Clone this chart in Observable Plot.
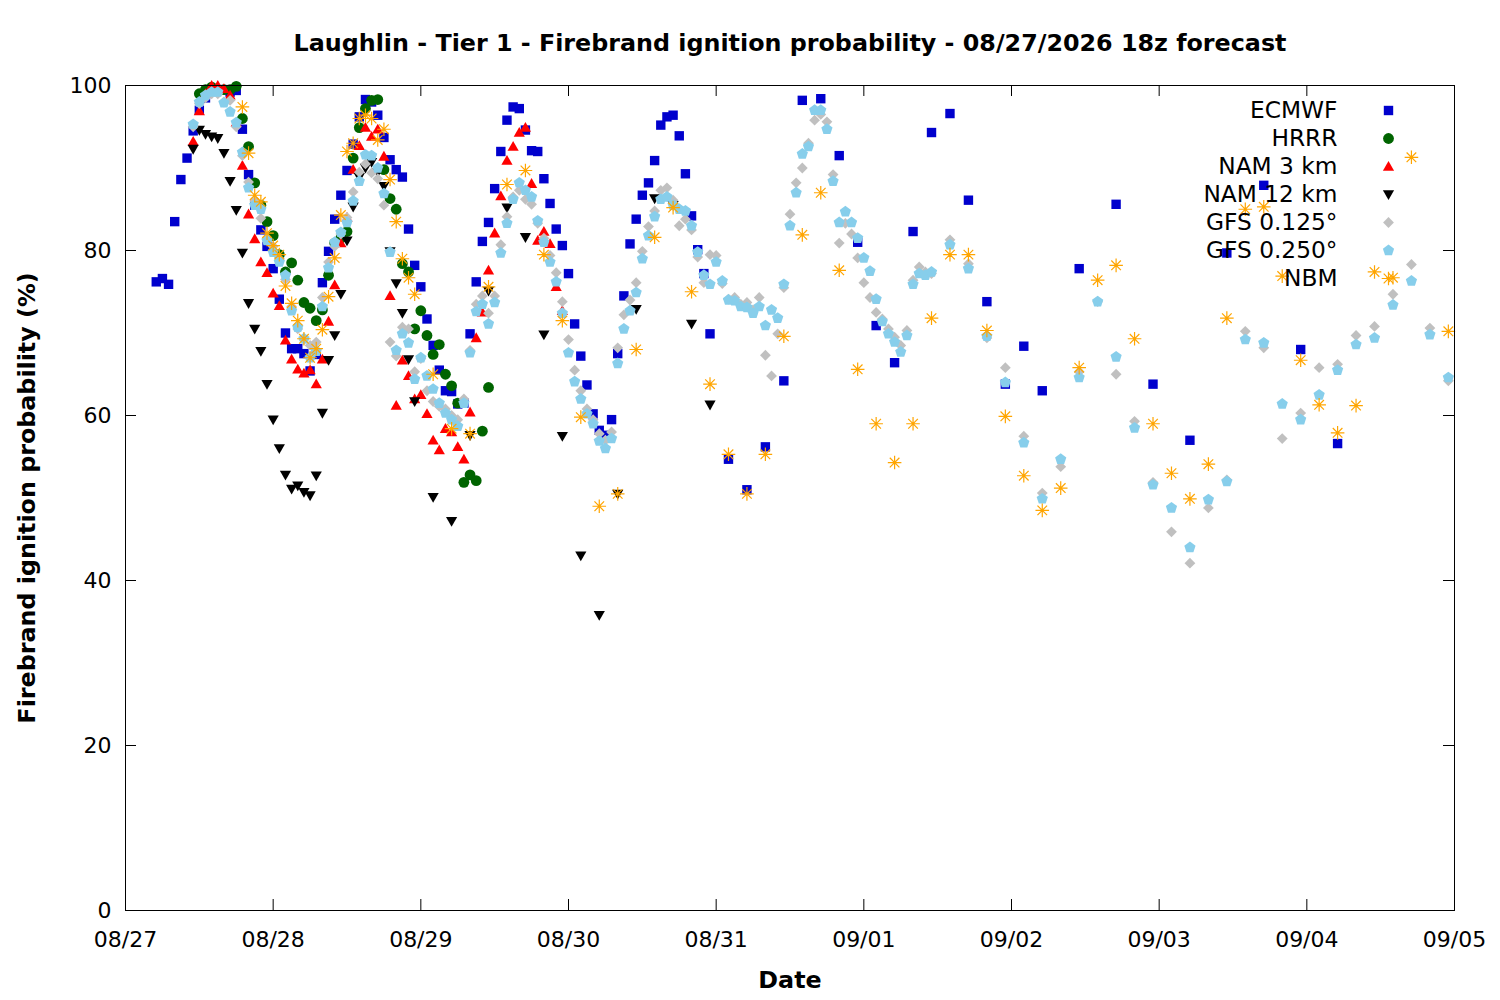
<!DOCTYPE html>
<html><head><meta charset="utf-8">
<script src="https://cdn.jsdelivr.net/npm/d3@7"></script>
<script src="https://cdn.jsdelivr.net/npm/@observablehq/plot@0.6"></script>
<style>body{margin:0;background:#fff}</style>
</head><body><div id="chart"></div>
<script>
// ---------------- text ----------------
const titleText = "Laughlin - Tier 1 - Firebrand ignition probability - 08/27/2026 18z forecast";
const xLabelText = "Date";
const yLabelText = "Firebrand ignition probability (%)";
const dayTicks = ["2026-08-27","2026-08-28","2026-08-29","2026-08-30","2026-08-31","2026-09-01","2026-09-02","2026-09-03","2026-09-04","2026-09-05"];
const yTicks = [0, 20, 40, 60, 80, 100];
const models = ["ECMWF", "HRRR", "NAM 3 km", "NAM 12 km", "GFS 0.125°", "GFS 0.250°", "NBM"];
const modelColors = ["#0000cd", "#006400", "#ff0000", "#000000", "#c0c0c0", "#87ceeb", "#ffa500"];
const startTime = "2026-08-27T00:00Z"; // hour offsets below count from here

// ---------------- data (hour offset of first value, step in hours, values) ----------------
const ecmwfHourly = [76.2,76.6,75.9,83.5,88.6,91.2,94.5,97,98.5,99.3,
  99.5,99.5,99.2,99.4,94.7,89.2,85.5,82.5,80.5,77.8,
  74.1,70,68.1,68.1,67.5,65.4,67.4,76.1,79.9,83.8,
  86.7,89.7,92.9,96.2,98.3,98,96.4,93.7,91,89.8,
  88.9,82.6,78.2,75.6,71.7,68.5,65.5,63,62.9,61.4,
  61.5,69.9,76.2,81.1,83.4,87.5,92,95.8,97.4,97.2,
  94.6,92.1,92,88.7,85.7,82.6,80.6,77.2,71.1,67.2,
  63.7,60.2,58.2,57.6,59.5,67.5,74.5,80.8,83.8,86.7,
  88.2,90.9,95.2,96.2,96.4,93.9,89.3,84.2,80.1,77.2,
  69.9]; // h5..h95
const ecmwf3h = [54.7,51,56.2,64.2,98.2,98.4,91.5,81,70.9,66.4,82.3,94.3,96.6,86.1,73.8,63.8,68.4,63]; // h98..h149
const ecmwf6h = [77.8,85.6,63.8,57,79.7,87.9,68,56.6]; // h155..h197

const hrrrHourly = [99,99.5,99.8,99.5,99.5,99.5,99.9,96,92.6,88.2,
  85.5,83.5,81.8,79.5,77.4,78.5,76.4,73.7,73,71.5,
  72.8,77,80.9,81.5,82.3,91.2,94.9,97.2,98.2,98.3,
  89.8,86.3,85,78.4,77.4,70.5,72.7,69.7,67.4,68.6,
  65,63.6,61.5,51.9,52.8,52.1,58.1,63.4]; // h12..h59

const nam3Hourly = [93.2,96.9,99,100,100,99.6,98.8,95.5,90.3,84.4,
  81.4,78.6,77.3,74.8,73.3,69.1,66.8,65.6,65.1,65.5,
  63.8,66.8,71.4,75.8,80.9,84,89.8,92.7,94.9,93.8,
  94.7,91.4,74.5,61.2,66.7,64.8,62,62.5,60.2,57,
  55.8,58.4,58,56.2,54.7,60.4,69.4,72.5,77.6,82.1,
  86.6,90.9,92.6,94.3,94.9,88.1,81.2,82.3,80.8,75.6,72.7]; // h11..h71

const nam12Hourly = [92.3,94.6,94.1,93.8,93.6,91.8,88.4,84.9,79.7,73.6,
  70.5,67.8,63.8,59.5,56,52.8,51.1,51.5,50.7,50.3,
  52.7,60.3,66.7,69.7,74.7,81.2,85.3,88.9,90,90.7,
  89.5,87.8,79.9,76,72.4,66.8,61.7]; // h11..h47
const nam12ThreeHourly = [50.1,47.2,57.6,75.1,85.2,81.6,69.8,57.5,43,35.8,50.5,72.9,86.3,85.5,71.1,61.3]; // h50..h95

const gfs125Hourly = [95,97.8,98.5,99,99,98,98.2,95,91.5,88.3,
  86,83.9,81.5,80.5,79,76.5,73.2,70.5,69.2,68.5,
  68.9,74.3,78.6,80.5,82,84,87.1,89.5,90.5,89.4,
  88.7,85.5,68.9,67.2,70.7,70.5,65.3,66.9,63,61.7,
  61.1,60.8,60,59.5,62,67.9,73.5,74.5,72.4,74.5,
  80.7,84.1,86.5,87.3,86.2,85.6,83.3,81.5,79.4,77.3,
  73.8,69.2,65.5,63,60.8,59.5,57.8,57,58,68.2,
  72.2,74,76.1,79.9,82.9,84.8,87.3,87.6,86.1,83,
  83.8,82.5,79.2,76.1,79.5,79.4,76,74.1,74.3,73.5,
  73.7,72.8,74.3,67.3,64.8,69.9,75.5,84.4,88.2,90,
  93,95.8,96.5,95.6,89.2,80.9,83.3,82,79.1,76.1,
  74.3,72.5,71.7,70.5,69.5,68.5,70.3,76.4,78,77.4,77.2]; // h11..h131
const gfs125ThreeHourly = [81.3,78.4,69.4,65.8,57.5,50.6,53.8,65.3,73.8,65,59.3,51.9,45.9,42.1,
  48.8,52.2,70.2,68.2,57.2,60.3,65.8,66.2,69.7,70.8,74.7,78.3,70.6,64.2]; // h134..h215

const gfs250Hourly = [95.3,98,98.8,99.2,99.2,97.9,96.8,95.5,91.9,87.6,
  85.5,85,81.2,79.8,78.6,77,72.7,70.7,69.3,67,
  67.8,73.2,77.9,81,82.2,83.4,86,88.4,91.6,91.5,
  90,86.9,79.8,67.9,69.9,68.8,64.4,67,64.8,63.2,
  61.5,60.3,59.5,58.7,61.5,67.6,72.6,73.5,71.1,73.7,
  79.7,83.3,86.2,88.2,87.3,86.5,83.6,81,78.6,76.2,
  72.4,67.6,64.1,62,60.2,59,56.9,56,57.2,66.3,
  70.5,72.7,74.9,79,81.8,84.1,86.2,86.5,85.5,85,
  84.8,83,79.8,77,75.9,78.6,76.3,74,73.9,73.2,
  73.1,72.4,73.2,70.9,72.8,71.8,75.9,83,87,91.7,
  92.6,97,97,94.7,88.4,83.4,84.7,83.4,81.5,79.1,
  77.5,74.1,71.4,69.9,68.9,67.7,69.7,75.9,77.2,77,77.4]; // h11..h131
const gfs250ThreeHourly = [80.7,77.8,69.6,64,56.7,49.9,54.7,64.6,73.8,67.1,58.5,51.6,48.8,44,
  49.8,52,69.2,68.8,61.4,59.5,62.5,65.5,68.6,69.4,73.4,76.3,69.8,64.6]; // h134..h215

const nbmHourly = [97.4,91.8,86.7,85.9,82.1,80.6,79.5,75.7,73.6,71.5,
  69.3,67,68.1,70.4,74.4,79.1,84.3,92,93,96,
  96.4,96,93.4,94.7,88.6,83.5,79,76.7,74.7]; // h19..h47
const nbmThreeHourly = [65,58.4,57.8,75.6,88,89.7,79.5,71.5,59.8,49,
  50.5,68,81.6,85.2,75,63.8,55.3,50.5,55.3,69.6,
  81.9,87,77.6,65.6,59,54.3,59,71.8,79.5,79.5,
  70.3,59.9,52.7,48.5,51.2,65.8,76.4,78.2,69.3,59,
  53,49.9,54.1,71.8,85,85.3,76.9,66.7,61.3,57.9,
  61.2,77.4,76.7,91.3,null,70.2]; // h50..h215

const segments = [
  {model: "ECMWF", start: 5, step: 1, values: ecmwfHourly},
  {model: "ECMWF", start: 98, step: 3, values: ecmwf3h},
  {model: "ECMWF", start: 155, step: 6, values: ecmwf6h},
  {model: "HRRR", start: 12, step: 1, values: hrrrHourly},
  {model: "NAM 3 km", start: 11, step: 1, values: nam3Hourly},
  {model: "NAM 12 km", start: 11, step: 1, values: nam12Hourly},
  {model: "NAM 12 km", start: 50, step: 3, values: nam12ThreeHourly},
  {model: "GFS 0.125°", start: 11, step: 1, values: gfs125Hourly},
  {model: "GFS 0.125°", start: 134, step: 3, values: gfs125ThreeHourly},
  {model: "GFS 0.250°", start: 11, step: 1, values: gfs250Hourly},
  {model: "GFS 0.250°", start: 134, step: 3, values: gfs250ThreeHourly},
  {model: "NBM", start: 19, step: 1, values: nbmHourly},
  {model: "NBM", start: 50, step: 3, values: nbmThreeHourly}
];

// ---------------- build ----------------
const t0 = new Date(startTime).getTime();
const rows = [];
for (const s of segments) {
  s.values.forEach((v, i) => {
    if (v != null) rows.push({model: s.model, time: new Date(t0 + (s.start + i * s.step) * 3600e3), value: v});
  });
}

const mk = f => ({draw(ctx, size) { const r = Math.sqrt(size / Math.PI); f(ctx, r); }});
const symSquare = mk((c, r) => { c.moveTo(-r, -r); c.lineTo(r, -r); c.lineTo(r, r); c.lineTo(-r, r); c.closePath(); });
const symCircle = mk((c, r) => { c.moveTo(r, 0); c.arc(0, 0, r, 0, 2 * Math.PI); c.closePath(); });
const symTriUp = mk((c, r) => { c.moveTo(0, -r); c.lineTo(r, r * 0.75); c.lineTo(-r, r * 0.75); c.closePath(); });
const symTriDown = mk((c, r) => { c.moveTo(0, r); c.lineTo(r, -r * 0.75); c.lineTo(-r, -r * 0.75); c.closePath(); });
const symDiamond = mk((c, r) => { c.moveTo(0, -r); c.lineTo(r, 0); c.lineTo(0, r); c.lineTo(-r, 0); c.closePath(); });
const symPentagon = mk((c, r) => {
  for (let k = 0; k < 5; k++) {
    const a = -Math.PI / 2 + k * 2 * Math.PI / 5;
    const x = r * Math.cos(a), y = r * Math.sin(a);
    if (k) c.lineTo(x, y); else c.moveTo(x, y);
  }
  c.closePath();
});
const symStar = mk((c, r) => {
  for (let k = 0; k < 4; k++) {
    const a = k * Math.PI / 4;
    c.moveTo(r * Math.cos(a), r * Math.sin(a));
    c.lineTo(-r * Math.cos(a), -r * Math.sin(a));
  }
});

const styles = {
  "ECMWF": {symbol: symSquare, r: 4.7, filled: true},
  "HRRR": {symbol: symCircle, r: 5.4, filled: true},
  "NAM 3 km": {symbol: symTriUp, r: 5.6, filled: true},
  "NAM 12 km": {symbol: symTriDown, r: 5.6, filled: true},
  "GFS 0.125°": {symbol: symDiamond, r: 5.4, filled: true},
  "GFS 0.250°": {symbol: symPentagon, r: 5.9, filled: true},
  "NBM": {symbol: symStar, r: 6.8, filled: false}
};

function styleOpts(name, i) {
  const st = styles[name];
  return st.filled
    ? {symbol: st.symbol, r: st.r, fill: modelColors[i], stroke: "none"}
    : {symbol: st.symbol, r: st.r, fill: "none", stroke: modelColors[i], strokeWidth: 1.2};
}

const W = 1500, H = 1000, mL = 125, mR = 46, mT = 85, mB = 90;
const frameW = W - mL - mR, frameH = H - mT - mB;
const tickLen = 11;
const fontFamily = "DejaVu Sans";

const marks = [];
// inward ticks (bottom/top, left/right)
const dayDates = dayTicks.map(d => new Date(d + "T00:00Z"));
marks.push(Plot.ruleX(dayDates, {x: d => d, insetTop: frameH - tickLen, stroke: "black"}));
marks.push(Plot.ruleX(dayDates, {x: d => d, insetBottom: frameH - tickLen, stroke: "black"}));
marks.push(Plot.ruleY(yTicks, {y: d => d, insetRight: frameW - tickLen, stroke: "black"}));
marks.push(Plot.ruleY(yTicks, {y: d => d, insetLeft: frameW - tickLen, stroke: "black"}));

models.forEach((m, i) => {
  marks.push(Plot.dot(rows.filter(d => d.model === m), {x: "time", y: "value", ...styleOpts(m, i)}));
});

// legend
models.forEach((m, i) => {
  marks.push(Plot.text([m], {frameAnchor: "top-right", dx: -117, dy: 25 + 28 * i, textAnchor: "end",
    lineAnchor: "middle", fontSize: 23.3, fill: "black"}));
  marks.push(Plot.dot([m], {frameAnchor: "top-right", dx: -66, dy: 25 + 28 * i, ...styleOpts(m, i)}));
});

marks.push(Plot.frame({stroke: "black", strokeWidth: 1}));
marks.push(Plot.axisX(dayDates, {tickFormat: d3.utcFormat("%m/%d"), tickSize: 0, tickPadding: 21, fontSize: 22, label: null}));
marks.push(Plot.axisY(yTicks, {tickSize: 0, tickPadding: 14, fontSize: 22, label: null}));
marks.push(Plot.text([titleText], {frameAnchor: "top", dy: -42, textAnchor: "middle", lineAnchor: "middle",
  fontWeight: "bold", fontSize: 23.8, fill: "black"}));
marks.push(Plot.text([xLabelText], {frameAnchor: "bottom", dy: 70, textAnchor: "middle", lineAnchor: "middle",
  fontWeight: "bold", fontSize: 23.8, fill: "black"}));
marks.push(Plot.text([yLabelText], {frameAnchor: "left", dx: -98, rotate: -90, textAnchor: "middle", lineAnchor: "middle",
  fontWeight: "bold", fontSize: 23.8, fill: "black"}));

const chart = Plot.plot({
  width: W, height: H,
  marginLeft: mL, marginRight: mR, marginTop: mT, marginBottom: mB,
  style: {fontFamily, fontSize: "22px", color: "black", background: "white"},
  x: {type: "utc", domain: [dayDates[0], dayDates[dayDates.length - 1]]},
  y: {domain: [0, 100]},
  marks
});
document.getElementById("chart").appendChild(chart);
</script>
</body></html>
